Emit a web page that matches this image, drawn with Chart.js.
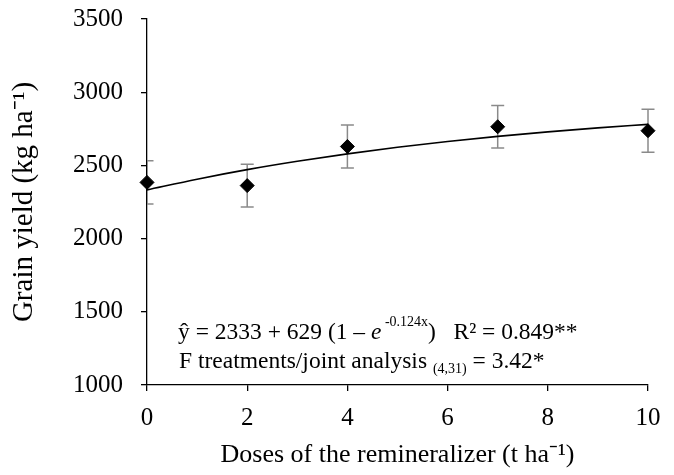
<!DOCTYPE html>
<html lang="en">
<head>
  <meta charset="UTF-8" />
  <title>Grain yield vs remineralizer dose</title>
  <script src="https://cdn.jsdelivr.net/npm/chart.js"></script>
  <style>
    html, body { margin: 0; padding: 0; background: #fff; }
    #wrap { width: 674px; height: 475px; }
  </style>
</head>
<body>
  <div id="wrap"><canvas id="yieldChart" width="674" height="475"></canvas></div>

  <script>
    // observed means (kg/ha) with error bars
    const doses = [0, 2, 4, 7, 10];
    const yieldMeans = [2384, 2362, 2629, 2764, 2737];
    const yieldErrors = [147, 146, 147, 146, 147];

    // fitted curve
    const fitDoses = [0, 1, 2, 3, 4, 5, 6, 7, 8, 9, 10];
    const fitYield = [2333, 2406, 2471, 2528, 2579, 2624, 2663, 2698, 2729, 2756, 2780];

    const serif = "'Liberation Serif', 'Times New Roman', serif";

    const errorBars = {
      id: "errorBars",
      beforeDatasetsDraw(chart) {
        const ctx = chart.ctx, area = chart.chartArea;
        const xs = chart.scales.x, ys = chart.scales.y;
        ctx.save();
        // caps get cut at the y axis like in the original
        ctx.beginPath();
        ctx.rect(area.left, 0, chart.width - area.left, chart.height);
        ctx.clip();
        ctx.strokeStyle = "#8a8a8a";
        ctx.lineWidth = 1.5;
        doses.forEach((d, i) => {
          const px = xs.getPixelForValue(d);
          const top = ys.getPixelForValue(yieldMeans[i] + yieldErrors[i]);
          const bot = ys.getPixelForValue(yieldMeans[i] - yieldErrors[i]);
          ctx.beginPath();
          ctx.moveTo(px, top); ctx.lineTo(px, bot);
          ctx.moveTo(px - 6.5, top); ctx.lineTo(px + 6.5, top);
          ctx.moveTo(px - 6.5, bot); ctx.lineTo(px + 6.5, bot);
          ctx.stroke();
        });
        ctx.restore();
      }
    };

    function drawRuns(ctx, runs, x, y) {
      runs.forEach(r => {
        ctx.font = r.font;
        ctx.fillText(r.t, x, y + (r.dy || 0));
        x += ctx.measureText(r.t).width;
      });
    }

    const equationText = {
      id: "equationText",
      afterDraw(chart) {
        const ctx = chart.ctx;
        const normal = "23.5px " + serif, small = "14px " + serif;
        ctx.save();
        ctx.fillStyle = "#000";
        ctx.textBaseline = "alphabetic";
        drawRuns(ctx, [
          { t: "ŷ = 2333 + 629 (1 – ", font: normal },
          { t: "e", font: "italic 23.5px " + serif },
          { t: " -0.124x", font: small, dy: -13 },
          { t: ")   R² = 0.849**", font: normal }
        ], 178, 339);
        drawRuns(ctx, [
          { t: "F treatments/joint analysis ", font: normal },
          { t: "(4,31)", font: small, dy: 5 },
          { t: " = 3.42*", font: normal }
        ], 179, 368);
        ctx.restore();
      }
    };

    new Chart(document.getElementById("yieldChart"), {
      type: "scatter",
      data: {
        datasets: [
          {
            label: "Fitted",
            type: "line",
            data: fitDoses.map((d, i) => ({ x: d, y: fitYield[i] })),
            borderColor: "#000",
            borderWidth: 1.6,
            pointRadius: 0,
            cubicInterpolationMode: "monotone",
            fill: false
          },
          {
            label: "Observed",
            data: doses.map((d, i) => ({ x: d, y: yieldMeans[i] })),
            pointStyle: "rectRot",
            pointRadius: 7,
            backgroundColor: "#000",
            borderColor: "#000",
            clip: false
          }
        ]
      },
      options: {
        responsive: false,
        animation: false,
        layout: { padding: { top: 19, right: 26, bottom: 0, left: 0 } },
        plugins: { legend: { display: false }, tooltip: { enabled: false } },
        scales: {
          x: {
            type: "linear",
            min: 0, max: 10,
            afterFit(s) { s.height = 90; },
            ticks: { stepSize: 2, color: "#000", padding: 12, font: { family: serif, size: 25 },
                     callback: v => String(v) },
            grid: { drawOnChartArea: false, tickLength: 6, color: "#000", lineWidth: 1.3 },
            border: { color: "#000", width: 1.3 },
            title: {
              display: true, text: "Doses of the remineralizer (t ha⁻¹)",
              color: "#000", font: { family: serif, size: 26 }, padding: { top: 0, bottom: 4 }
            }
          },
          y: {
            min: 1000, max: 3500,
            afterFit(s) {
              s.width = 147;
              // tick padding would otherwise push the plot top down
              s.paddingTop = 0;
              s.paddingBottom = 0;
            },
            ticks: { stepSize: 500, color: "#000", padding: 18, font: { family: serif, size: 25 },
                     callback: v => String(v) },
            grid: { drawOnChartArea: false, tickLength: 6, color: "#000", lineWidth: 1.3 },
            border: { color: "#000", width: 1.3 },
            title: {
              display: true, text: "Grain yield (kg ha⁻¹)",
              color: "#000", font: { family: serif, size: 29 }, padding: { top: 7, bottom: 0 }
            }
          }
        }
      },
      plugins: [errorBars, equationText]
    });
  </script>
</body>
</html>
